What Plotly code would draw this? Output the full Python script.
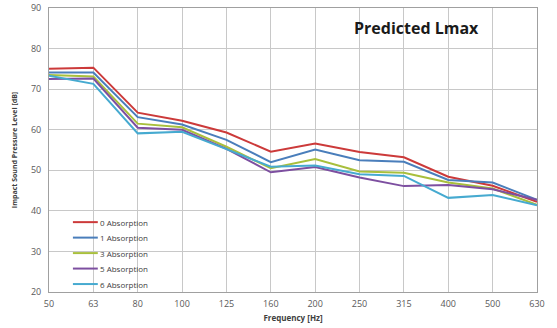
import plotly.graph_objects as go

freqs = ["50", "63", "80", "100", "125", "160", "200", "250", "315", "400", "500", "630"]
series_names = ["0 Absorption", "1 Absorption", "3 Absorption", "5 Absorption", "6 Absorption"]
abs0 = [75.0, 75.3, 64.2, 62.2, 59.3, 54.6, 56.6, 54.5, 53.2, 48.4, 46.2, 42.2]
abs1 = [74.1, 74.1, 63.1, 61.3, 57.5, 52.0, 55.1, 52.5, 52.1, 47.6, 47.0, 42.7]
abs3 = [73.5, 73.1, 61.5, 60.6, 55.8, 50.5, 52.8, 49.7, 49.4, 47.0, 45.5, 41.5]
abs5 = [72.5, 72.6, 60.5, 60.0, 55.3, 49.5, 50.8, 48.2, 46.1, 46.4, 45.3, 42.7]
abs6 = [73.3, 71.3, 59.1, 59.5, 55.2, 50.9, 51.2, 49.0, 48.6, 43.2, 43.9, 41.4]
colors = ["#CC3A3A", "#4A7EBB", "#A8BF3C", "#7D4FA0", "#46AAD0"]

fig = go.Figure()
for name, vals, c in zip(series_names, [abs0, abs1, abs3, abs5, abs6], colors):
    fig.add_trace(go.Scatter(x=freqs, y=vals, mode="lines", name=name,
                             line=dict(color=c, width=2), showlegend=False))

# compact legend drawn inside the plot area (paper coordinates)
annotations = [dict(text="<b>Predicted Lmax</b>", x=0.885, y=0.93, xref="paper", yref="paper",
                    xanchor="right", yanchor="middle", showarrow=False,
                    font=dict(size=16, color="#1a1a1a"))]
shapes = []
leg_y0 = 0.246
leg_step = 0.0545
for i, (name, c) in enumerate(zip(series_names, colors)):
    yy = leg_y0 - i * leg_step
    shapes.append(dict(type="line", xref="paper", yref="paper", x0=0.049, x1=0.100,
                       y0=yy, y1=yy, line=dict(color=c, width=2)))
    annotations.append(dict(text=name, x=0.101, y=yy, xref="paper", yref="paper",
                            xanchor="left", yanchor="middle", showarrow=False,
                            font=dict(size=8, color="#404040")))

fig.update_layout(
    width=557, height=328,
    margin=dict(l=49, r=20, t=8, b=36, autoexpand=False),
    paper_bgcolor="white", plot_bgcolor="white",
    font=dict(family="Open Sans, Liberation Sans, sans-serif", size=9, color="#595959"),
    showlegend=False,
    annotations=annotations,
    shapes=shapes,
)
fig.update_xaxes(type="category", range=[0, 11], showgrid=True, gridcolor="#C8C8C8",
                 gridwidth=1, showline=True, linecolor="#A0A0A0", mirror=True, automargin=False,
                 ticks="", ticklabelstandoff=3, tickfont=dict(size=9, color="#595959"),
                 title=dict(text="<b>Frequency [Hz]</b>", font=dict(size=8, color="#404040"), standoff=6))
fig.update_yaxes(range=[20, 90], dtick=10, showgrid=True, gridcolor="#C8C8C8",
                 gridwidth=1, showline=True, linecolor="#A0A0A0", mirror=True, automargin=False,
                 ticks="", ticklabelstandoff=5, tickfont=dict(size=9, color="#595959"), zeroline=False,
                 title=dict(text="<b>Impact Sound Pressure Level [dB]</b>", font=dict(size=7, color="#404040"), standoff=12))

fig.write_html("out.html")
